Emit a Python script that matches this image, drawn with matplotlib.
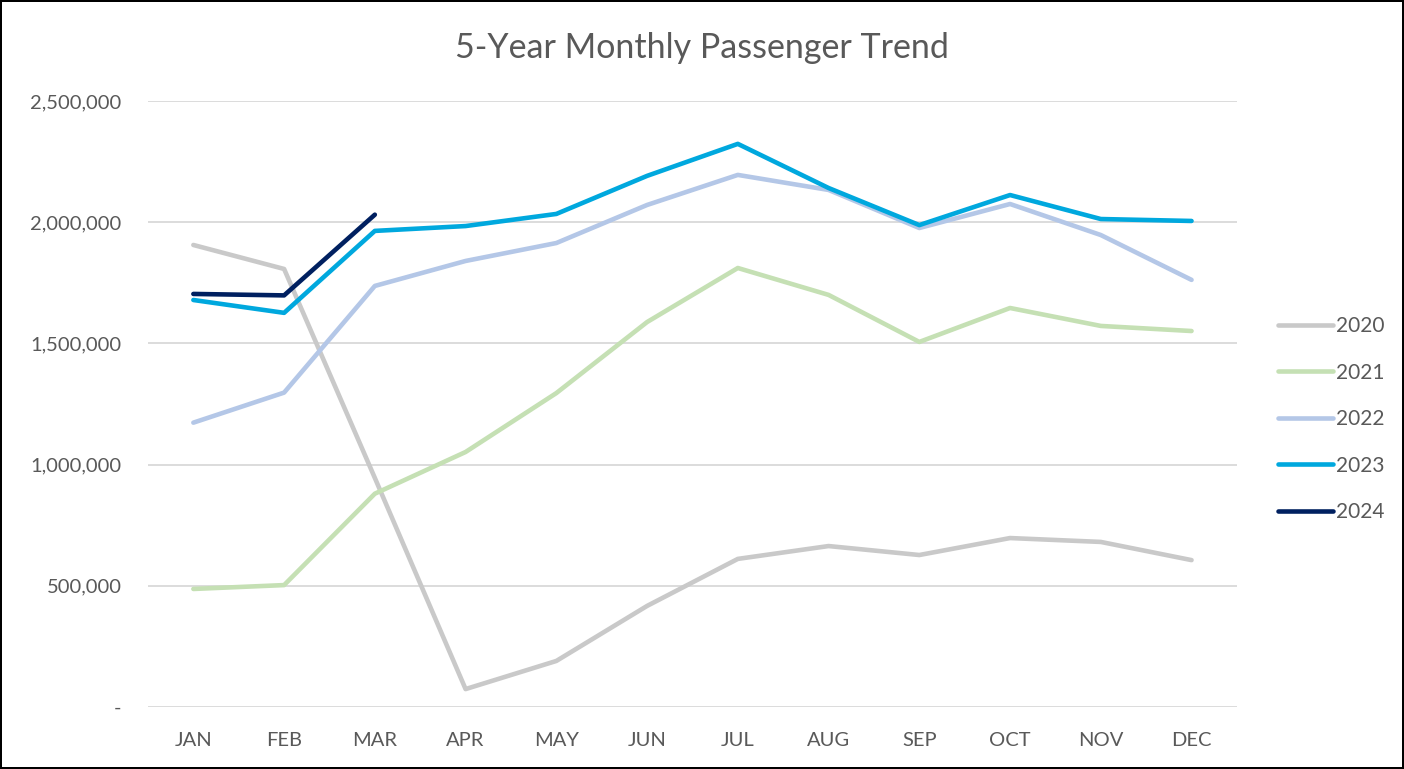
import matplotlib
matplotlib.use("Agg")
import matplotlib.pyplot as plt
from matplotlib.ticker import FuncFormatter

months = ["JAN", "FEB", "MAR", "APR", "MAY", "JUN",
          "JUL", "AUG", "SEP", "OCT", "NOV", "DEC"]

y2020 = [1906000, 1807000, 945000, 74000, 190000, 417000,
         611000, 664000, 627000, 697000, 681000, 606000]
y2021 = [487000, 503000, 880000, 1052000, 1295000, 1588000,
         1811000, 1700000, 1506000, 1646000, 1572000, 1551000]
y2022 = [1173000, 1297000, 1737000, 1840000, 1914000, 2071000,
         2195000, 2133000, 1976000, 2075000, 1947000, 1762000]
y2023 = [1679000, 1626000, 1964000, 1984000, 2034000, 2191000,
         2323000, 2141000, 1988000, 2112000, 2013000, 2005000]
y2024 = [1704000, 1698000, 2031000]

series = [("2020", y2020, "#c9c9c9"),
          ("2021", y2021, "#c5e0b4"),
          ("2022", y2022, "#b4c7e7"),
          ("2023", y2023, "#00a8de"),
          ("2024", y2024, "#002060")]

plt.rcParams["font.family"] = ["Lato", "DejaVu Sans"]
TXT = "#595959"

fig = plt.figure(figsize=(14.04, 7.69), dpi=100)
fig.patch.set_edgecolor("black")
fig.patch.set_linewidth(1.5)
ax = fig.add_axes([0.1054, 0.0806, 0.7756, 0.7881])

for label, vals, color in series:
    ax.plot(range(len(vals)), vals, color=color, linewidth=3.3,
            solid_capstyle="round", solid_joinstyle="round", label=label)

ax.set_xlim(-0.5, 11.5)
ax.set_ylim(0, 2500000)
ax.set_yticks(range(0, 2500001, 500000))
ax.yaxis.set_major_formatter(FuncFormatter(lambda v, p: "-" if v == 0 else f"{int(v):,}"))
ax.set_xticks(range(12))
ax.set_xticklabels(months)
ax.tick_params(axis="both", length=0, labelsize=14.5, labelcolor=TXT)
ax.tick_params(axis="y", pad=19)
ax.tick_params(axis="x", pad=18)
ax.grid(axis="y", color="#d9d9d9", linewidth=1.3)
ax.set_axisbelow(True)
for s in ax.spines.values():
    s.set_visible(False)

fig.text(0.5, 0.937, "5-Year Monthly Passenger Trend", ha="center", va="center",
         fontsize=24.5, color=TXT)

fig.legend(loc="center left", bbox_to_anchor=(0.897, 0.455), frameon=False,
           fontsize=15, labelcolor=TXT, handlelength=2.64, handletextpad=0.15,
           labelspacing=1.27)

fig.savefig("out.png", dpi=100)
